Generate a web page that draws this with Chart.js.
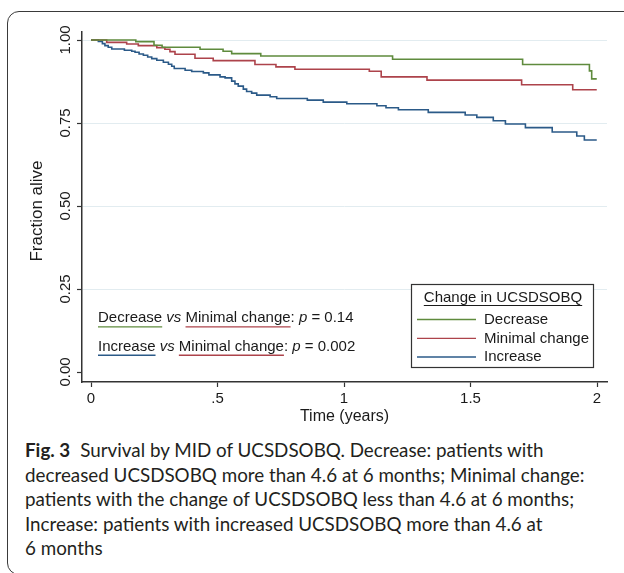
<!DOCTYPE html>
<html><head><meta charset="utf-8">
<script src="https://cdn.jsdelivr.net/npm/chart.js@4.4.1/dist/chart.umd.min.js"></script>
<style>
html,body{margin:0;padding:0;background:#fff;width:624px;height:573px;overflow:hidden;}
#frame{position:absolute;left:6.5px;top:10.5px;width:640px;height:562px;border:1.5px solid #3a3a3a;border-radius:12px 0 0 12px;box-sizing:content-box;}
#wrap{position:absolute;left:0;top:0;width:624px;height:430px;}
.cap{position:absolute;left:25px;white-space:nowrap;color:#231f20;font-family:Lato,'Open Sans',sans-serif;}
.cap b{font-weight:700;margin-right:10px;}
</style></head><body>
<div id="frame"></div>
<div id="wrap"><canvas id="c" width="624" height="430"></canvas></div>
<div id="caption"></div>
<script>
// ---- data ----
const decreaseTime = [0, 0.177, 0.249, 0.281, 0.431, 0.522, 0.556, 0.671, 1.192, 1.706, 1.970, 1.979, 1.999];
const decreaseSurv = [1.000, 0.995, 0.984, 0.978, 0.972, 0.966, 0.959, 0.952, 0.942, 0.926, 0.907, 0.883, 0.883];

const minimalTime = [0, 0.062, 0.141, 0.187, 0.260, 0.292, 0.312, 0.332, 0.411, 0.483, 0.648, 0.731, 0.806, 1.100, 1.147, 1.328, 1.702, 1.904, 1.999];
const minimalSurv = [1.000, 0.993, 0.988, 0.983, 0.977, 0.972, 0.965, 0.957, 0.945, 0.938, 0.926, 0.919, 0.912, 0.906, 0.889, 0.879, 0.865, 0.850, 0.850];

const increaseTime = [0, 0.029, 0.045, 0.055, 0.068, 0.082, 0.132, 0.161, 0.174, 0.190, 0.207, 0.224, 0.240, 0.260, 0.286, 0.306, 0.319, 0.329, 0.372, 0.398, 0.444, 0.466, 0.510, 0.530, 0.556, 0.569, 0.582, 0.602, 0.615, 0.635, 0.655, 0.708, 0.734, 0.855, 0.918, 1.011, 1.130, 1.166, 1.215, 1.333, 1.479, 1.525, 1.590, 1.638, 1.717, 1.823, 1.920, 1.950, 1.999];
const increaseSurv = [1.000, 0.996, 0.989, 0.983, 0.978, 0.973, 0.969, 0.966, 0.963, 0.958, 0.954, 0.949, 0.944, 0.939, 0.933, 0.927, 0.921, 0.914, 0.909, 0.905, 0.901, 0.895, 0.889, 0.886, 0.876, 0.868, 0.861, 0.852, 0.845, 0.840, 0.834, 0.829, 0.824, 0.819, 0.813, 0.808, 0.802, 0.796, 0.790, 0.782, 0.774, 0.767, 0.757, 0.747, 0.736, 0.723, 0.711, 0.699, 0.699];

const seriesNames = ['Decrease', 'Minimal change', 'Increase'];
const legendTitle = 'Change in UCSDSOBQ';
const xTickValues = [0, 0.5, 1, 1.5, 2];
const xTickLabels = ['0', '.5', '1', '1.5', '2'];
const yTickValues = [0, 0.25, 0.5, 0.75, 1];
const yTickLabels = ['0.00', '0.25', '0.50', '0.75', '1.00'];
const xTitle = 'Time (years)';
const yTitle = 'Fraction alive';
const pRows = [
  {a: 0, b: 1, p: '0.14'},
  {a: 2, b: 1, p: '0.002'}
];
const captionLines = [
  'Survival by MID of UCSDSOBQ. Decrease: patients with',
  'decreased UCSDSOBQ more than 4.6 at 6 months; Minimal change:',
  'patients with the change of UCSDSOBQ less than 4.6 at 6 months;',
  'Increase: patients with increased UCSDSOBQ more than 4.6 at',
  '6 months'
];
const captionLabel = 'Fig. 3';

// ---- styles ----
const colors = ['#5f8b3d', '#ad434b', '#2b5a88'];
const FONT = '"Liberation Sans", Arial, sans-serif';
const TXT = '#1a1a1a';

function pts(t, s) { return t.map((v, i) => ({x: v, y: s[i]})); }

const overlay = {
  id: 'overlay',
  afterDraw(chart) {
    const ctx = chart.ctx;
    const ys = chart.scales.y;
    ctx.save();
    // rotated y tick labels
    ctx.fillStyle = TXT;
    ctx.font = '15px ' + FONT;
    ctx.textAlign = 'center';
    ctx.textBaseline = 'middle';
    yTickValues.forEach((v, i) => {
      const py = ys.getPixelForValue(v);
      ctx.save();
      ctx.translate(65.8, py);
      ctx.rotate(-Math.PI / 2);
      ctx.fillText(yTickLabels[i], 0, 0);
      ctx.restore();
    });
    // y axis title
    ctx.save();
    ctx.font = '17px ' + FONT;
    ctx.translate(37.6, 211);
    ctx.rotate(-Math.PI / 2);
    ctx.fillText(yTitle, 0, 0);
    ctx.restore();
    // p-value annotations
    const rowY = [318.3, 346.7];
    pRows.forEach((r, ri) => {
      const segs = [
        {t: seriesNames[r.a], u: r.a}, {t: ' '}, {t: 'vs', it: true}, {t: ' '},
        {t: seriesNames[r.b], u: r.b}, {t: ': '}, {t: 'p', it: true}, {t: ' = ' + r.p}
      ];
      let x = 98;
      const y = rowY[ri];
      ctx.textAlign = 'left';
      segs.forEach(sg => {
        ctx.font = (sg.it ? 'italic ' : '') + '15px ' + FONT;
        ctx.fillStyle = TXT;
        ctx.fillText(sg.t, x, y);
        const w = ctx.measureText(sg.t).width;
        if (sg.u !== undefined) {
          ctx.strokeStyle = colors[sg.u];
          ctx.lineWidth = 1.4;
          ctx.beginPath();
          ctx.moveTo(x, y + 8.6);
          ctx.lineTo(x + w, y + 8.6);
          ctx.stroke();
        }
        x += w;
      });
    });
    // legend box
    const bx = 411, by = 284, bw = 182, bh = 83;
    ctx.fillStyle = '#fff';
    ctx.fillRect(bx, by, bw, bh);
    ctx.strokeStyle = '#333';
    ctx.lineWidth = 1.2;
    ctx.strokeRect(bx + 0.5, by + 0.5, bw, bh);
    ctx.font = '15px ' + FONT;
    ctx.fillStyle = TXT;
    ctx.textAlign = 'center';
    ctx.fillText(legendTitle, 503, 298.3);
    const tw = ctx.measureText(legendTitle).width;
    ctx.strokeStyle = TXT;
    ctx.lineWidth = 1;
    ctx.beginPath();
    ctx.moveTo(503 - tw / 2, 305.5);
    ctx.lineTo(503 + tw / 2, 305.5);
    ctx.stroke();
    const ly = [319.5, 338.3, 357];
    ctx.textAlign = 'left';
    seriesNames.forEach((n, i) => {
      ctx.strokeStyle = colors[i];
      ctx.lineWidth = 1.3;
      ctx.beginPath();
      ctx.moveTo(417, ly[i]);
      ctx.lineTo(476, ly[i]);
      ctx.stroke();
      ctx.fillStyle = TXT;
      ctx.fillText(n, 484, ly[i] + 0.3);
    });
    ctx.restore();
  }
};

new Chart(document.getElementById('c'), {
  type: 'line',
  data: {
    datasets: [
      {label: seriesNames[0], data: pts(decreaseTime, decreaseSurv)},
      {label: seriesNames[1], data: pts(minimalTime, minimalSurv)},
      {label: seriesNames[2], data: pts(increaseTime, increaseSurv)}
    ].map((d, i) => Object.assign(d, {
      borderColor: colors[i], borderWidth: 1.6, pointRadius: 0, stepped: true, fill: false, tension: 0
    }))
  },
  options: {
    responsive: false, animation: false, devicePixelRatio: 1,
    font: {family: FONT},
    layout: {padding: {left: 0, top: 32, right: 17, bottom: 0}},
    plugins: {legend: {display: false}, tooltip: {enabled: false}},
    scales: {
      x: {
        type: 'linear', min: -0.0356, max: 2.0395,
        afterBuildTicks: s => { s.ticks = xTickValues.map(v => ({value: v})); },
        afterFit: s => { s.height = 48; },
        ticks: {padding: 3, color: TXT, font: {family: FONT, size: 15}, maxRotation: 0, autoSkip: false,
          callback: v => xTickLabels[xTickValues.indexOf(v)]},
        grid: {drawOnChartArea: false, tickLength: 5, tickColor: '#333', tickWidth: 1.2},
        border: {display: true, color: '#333', width: 1.5},
        title: {display: true, text: xTitle, color: TXT, font: {family: FONT, size: 16}, padding: {top: 0, bottom: 4.2}}
      },
      y: {
        type: 'linear', min: -0.0301, max: 1.0241,
        afterBuildTicks: s => { s.ticks = yTickValues.map(v => ({value: v})); },
        afterFit: s => { s.width = 82; },
        ticks: {display: false},
        grid: {color: c => (c.tick && c.tick.value === 0) ? 'rgba(0,0,0,0)' : '#e2ecf0', lineWidth: 1,
          tickLength: 5, tickColor: '#333', tickWidth: 1.2},
        border: {display: true, color: '#333', width: 1.5},
        title: {display: false}
      }
    }
  },
  plugins: [overlay]
});

// ---- caption ----
(function () {
  const mc = document.createElement('canvas').getContext('2d');
  const base = 20;
  mc.font = base + 'px Lato';
  const w = mc.measureText(captionLines[1]).width;
  const fs = base * 560 / w;
  mc.font = fs + 'px Lato';
  const m = mc.measureText(captionLines[1]);
  const asc = m.fontBoundingBoxAscent, desc = m.fontBoundingBoxDescent;
  const baselines = [456.7, 481.7, 506.2, 530.7, 555.2];
  const cap = document.getElementById('caption');
  captionLines.forEach((t, i) => {
    const d = document.createElement('div');
    d.className = 'cap';
    d.style.fontSize = fs + 'px';
    d.style.lineHeight = (asc + desc) + 'px';
    d.style.top = (baselines[i] - asc) + 'px';
    if (i === 0) {
      const b = document.createElement('b');
      b.textContent = captionLabel;
      d.appendChild(b);
    }
    d.appendChild(document.createTextNode(t));
    cap.appendChild(d);
  });
})();
</script>
</body></html>
